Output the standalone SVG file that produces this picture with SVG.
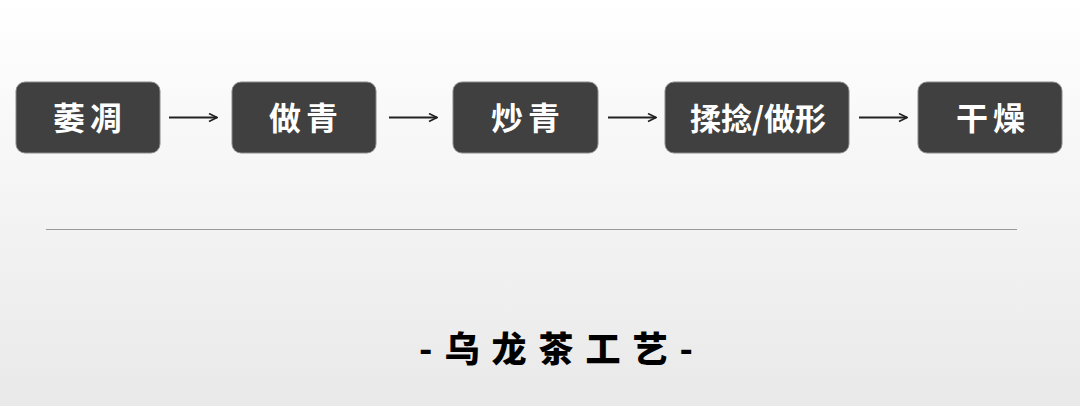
<svg xmlns="http://www.w3.org/2000/svg" width="1080" height="406" viewBox="0 0 1080 406">
<defs>
<linearGradient id="bg" x1="0" y1="0" x2="0" y2="1">
<stop offset="0" stop-color="#ffffff"/>
<stop offset="1" stop-color="#e9e9e9"/>
</linearGradient>
<marker id="arr" viewBox="0 0 10 10" refX="9" refY="5" markerWidth="10" markerHeight="10" markerUnits="userSpaceOnUse" orient="auto">
<path d="M1,1 L9,5 L1,9" fill="none" stroke="#222" stroke-width="1.6"/>
</marker>
<style>
.box{fill:#404040;stroke:#8a8a8a;stroke-width:1}
.lbl{font-family:"Noto Sans CJK SC","Noto Sans",sans-serif;font-weight:bold;font-size:32px;fill:#ffffff;text-anchor:middle}
.con{stroke:#222;stroke-width:2;fill:none;marker-end:url(#arr)}
.title{font-family:"Noto Sans CJK SC","Noto Sans",sans-serif;font-weight:900;font-size:35px;fill:#000;text-anchor:middle;letter-spacing:12px}
</style>
</defs>
<rect x="0" y="0" width="1080" height="406" fill="url(#bg)"/>
<g id="n1"><rect class="box" x="16" y="82" width="144" height="71" rx="9"/><text class="lbl" x="90" y="130" letter-spacing="5">萎凋</text></g>
<g id="n2"><rect class="box" x="232" y="82" width="144" height="71" rx="9"/><text class="lbl" x="306" y="130" letter-spacing="5">做青</text></g>
<g id="n3"><rect class="box" x="453" y="82" width="145" height="71" rx="9"/><text class="lbl" x="528" y="130" letter-spacing="5">炒青</text></g>
<g id="n4"><rect class="box" x="665" y="82" width="184" height="71" rx="9"/><text class="lbl" x="758" y="130" style="font-size:31px">揉捻/做形</text></g>
<g id="n5"><rect class="box" x="918" y="82" width="144" height="71" rx="9"/><text class="lbl" x="993" y="130" letter-spacing="5">干燥</text></g>
<g id="connectors">
<line class="con" x1="169" y1="117.5" x2="217" y2="117.5"/>
<line class="con" x1="389" y1="117.5" x2="437" y2="117.5"/>
<line class="con" x1="608" y1="117.5" x2="656" y2="117.5"/>
<line class="con" x1="859" y1="117.5" x2="907" y2="117.5"/>
</g>
<line x1="46" y1="229.5" x2="1017" y2="229.5" stroke="#9a9a9a" stroke-width="1"/>
<text class="title" x="562" y="362">-乌龙茶工艺-</text>
</svg>
